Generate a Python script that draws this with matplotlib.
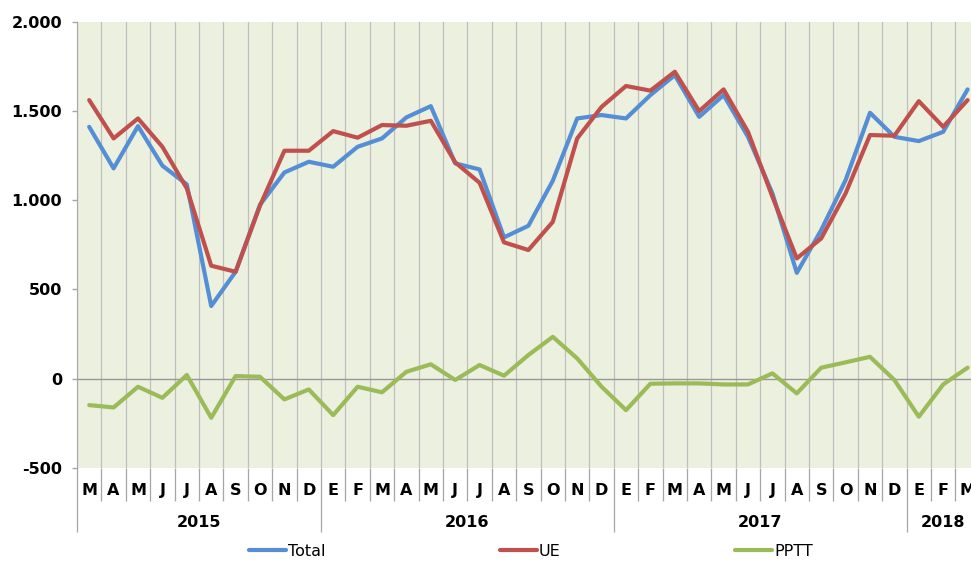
import numpy as np
import matplotlib
matplotlib.use("Agg")
import matplotlib.pyplot as plt
from matplotlib.ticker import FixedLocator, FuncFormatter
from matplotlib.transforms import blended_transform_factory

# ---- data ----
months = ["M", "A", "M", "J", "J", "A", "S", "O", "N", "D",
          "E", "F", "M", "A", "M", "J", "J", "A", "S", "O", "N", "D",
          "E", "F", "M", "A", "M", "J", "J", "A", "S", "O", "N", "D",
          "E", "F", "M"]
years = ["2015", "2016", "2017", "2018"]
year_counts = [10, 12, 12, 3]

total = [1412, 1179, 1416, 1194, 1089, 407, 599, 975, 1156, 1216,
         1188, 1300, 1347, 1465, 1528, 1207, 1173, 792, 857, 1110, 1459, 1478,
         1459, 1590, 1702, 1468, 1590, 1356, 1039, 593, 833, 1113, 1491, 1356,
         1332, 1384, 1622]
ue = [1562, 1347, 1459, 1300, 1067, 633, 599, 970, 1278, 1278,
      1388, 1351, 1422, 1418, 1446, 1213, 1098, 764, 721, 879, 1347, 1524,
      1641, 1615, 1721, 1500, 1622, 1384, 1020, 674, 786, 1039, 1366, 1362,
      1556, 1412, 1562]
pptt = [-149, -162, -46, -108, 20, -220, 14, 10, -117, -61,
        -205, -46, -77, 38, 80, -8, 76, 16, 132, 234, 113, -46,
        -177, -29, -27, -27, -33, -33, 29, -83, 61, 91, 122, -8,
        -214, -33, 61]
series_names = ["Total", "UE", "PPTT"]
yticks = [-500, 0, 500, 1000, 1500, 2000]

# ---- style ----
colors = ["#558ED5", "#C0504D", "#9BBB59"]
bg = "#EBF1DE"
gridc = "#BFBFBF"
tickc = "#A6A6A6"
W, H = 971, 561

plt.rcParams["font.family"] = ["DejaVu Sans"]
fig = plt.figure(figsize=(W / 100, H / 100), dpi=100)
ax_left, ax_bottom = 77 / W, (H - 467.7) / H
ax_w, ax_h = 902.8 / W, 445.7 / H
ax = fig.add_axes([ax_left, ax_bottom, ax_w, ax_h])
ax.set_facecolor(bg)

x = np.arange(len(months))
for vals, c, name in zip([total, ue, pptt], colors, series_names):
    ax.plot(x, vals, color=c, lw=3.0, label=name, solid_joinstyle="round",
            solid_capstyle="round", zorder=3)

ax.set_xlim(-0.5, len(months) - 0.5)
ax.set_ylim(-500, 2000)

# y axis
ax.yaxis.set_major_locator(FixedLocator(yticks))
ax.yaxis.set_major_formatter(FuncFormatter(lambda v, p: f"{v:,.0f}".replace(",", ".")))
ax.tick_params(axis="y", length=3.6, width=1, color=tickc, pad=7, labelsize=11.5)
for lab in ax.get_yticklabels():
    lab.set_fontweight("bold")

# x axis: boundaries
bounds = np.arange(-0.5, len(months), 1.0)
ybounds = np.concatenate([[-0.5], np.cumsum(year_counts)[:-1] - 0.5])
ax.xaxis.set_major_locator(FixedLocator(ybounds))
ax.xaxis.set_minor_locator(FixedLocator(bounds))
ax.tick_params(axis="x", which="minor", length=32.5 * 0.72, width=0.9, color=tickc,
               labelbottom=False)
ax.tick_params(axis="x", which="major", length=64 * 0.72, width=0.9, color=tickc,
               labelbottom=False)
ax.grid(True, which="both", axis="x", color=gridc, lw=0.9, zorder=1)
ax.axhline(0, color="#979797", lw=1, zorder=2)

for s in ["top", "right", "bottom"]:
    ax.spines[s].set_visible(False)
ax.spines["left"].set_color(tickc)

trans = blended_transform_factory(ax.transData, ax.transAxes)
ax_h_px = 445.7
for i, m in enumerate(months):
    ax.text(i, -22.5 / ax_h_px, m, transform=trans, ha="center", va="center",
            fontsize=11.5, fontweight="bold")
start = 0
for yr, n in zip(years, year_counts):
    ctr = start + (n - 1) / 2
    ax.text(ctr, -54.5 / ax_h_px, yr, transform=trans, ha="center", va="center",
            fontsize=11.5, fontweight="bold")
    start += n

leg = fig.legend(loc="center", bbox_to_anchor=(531 / W, 9.5 / H), ncol=3,
                 frameon=False, fontsize=11.5, handlelength=2.3,
                 handletextpad=0.15, columnspacing=10.9, borderaxespad=0)

fig.savefig("out.png", dpi=100)
